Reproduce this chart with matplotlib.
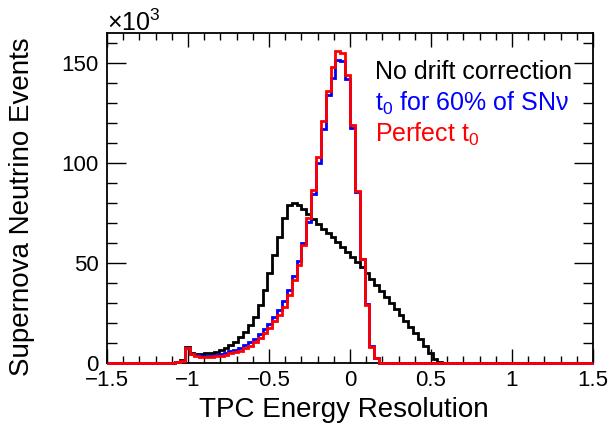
import numpy as np
import matplotlib
matplotlib.use("Agg")
import matplotlib.pyplot as plt
from matplotlib.ticker import MultipleLocator, FuncFormatter

plt.rcParams['font.family'] = ['Liberation Sans', 'DejaVu Sans']
plt.rcParams['mathtext.fontset'] = 'custom'
plt.rcParams['mathtext.rm'] = 'Liberation Sans'
plt.rcParams['mathtext.default'] = 'regular'

# 100 bins from -1.5 to 1.5, values in units of 10^3 events
n_bins = 100
x_lo, x_hi = -1.5, 1.5
first_bin = 13   # index of first filled bin

no_drift = [0.3, 0.8, 1.5, 8.0, 5.0, 4.7, 4.7, 5.0, 5.3, 5.8,
            6.7, 7.5, 9.2, 10.8, 13.0, 15.8, 19.0, 23.0, 29.0, 36.7,
            45.0, 54.0, 63.0, 72.5, 79.0, 80.3, 79.0, 77.0, 74.5, 72.0,
            69.5, 67.0, 65.0, 63.0, 60.5, 58.0, 55.5, 53.0, 50.5, 48.0,
            45.0, 42.0, 39.0, 36.0, 33.0, 30.0, 27.0, 24.0, 21.0, 18.0,
            15.0, 12.0, 8.5, 5.0, 2.0, 0.5]

t0_60 = [0.3, 0.8, 1.4, 7.8, 4.9, 4.1, 3.8, 3.8, 3.9, 4.3,
         4.6, 5.2, 6.0, 6.8, 7.8, 9.0, 10.5, 12.3, 14.5, 17.0,
         19.8, 23.0, 26.5, 31.0, 36.5, 43.5, 51.0, 60.0, 70.5, 84.5,
         100.0, 117.0, 134.0, 142.5, 151.5, 151.0, 142.0, 117.5, 85.5, 52.0,
         29.5, 8.5, 2.5]

perfect_t0 = [0.3, 0.7, 1.3, 7.8, 4.7, 3.8, 3.3, 3.3, 3.3, 3.7,
              3.8, 4.3, 5.0, 5.5, 6.3, 7.5, 8.8, 10.5, 12.5, 15.0,
              17.5, 21.0, 24.0, 28.0, 34.0, 41.6, 49.0, 59.0, 72.5, 86.5,
              103.0, 121.0, 136.0, 148.0, 156.0, 155.0, 144.0, 119.0, 86.0, 52.0,
              29.0, 8.0, 2.5]

labels = ["No drift correction", "t$_0$ for 60% of SN\u03bd", "Perfect t$_0$"]
colors = ["black", "blue", "red"]


def fill(vals):
    h = np.zeros(n_bins)
    h[first_bin:first_bin + len(vals)] = vals
    return h


edges = np.linspace(x_lo, x_hi, n_bins + 1)

fig = plt.figure(figsize=(6.11, 4.32), dpi=100)
ax = fig.add_axes([0.1751, 0.159, 0.7954, 0.7639])

for vals, c in zip([no_drift, t0_60, perfect_t0], colors):
    ax.stairs(fill(vals), edges, color=c, lw=2, baseline=None,
              zorder=3, clip_on=False)

ax.set_xlim(x_lo, x_hi)
ax.set_ylim(0, 165)

ax.xaxis.set_major_locator(MultipleLocator(0.5))
ax.xaxis.set_minor_locator(MultipleLocator(0.1))
ax.yaxis.set_major_locator(MultipleLocator(50))
ax.yaxis.set_minor_locator(MultipleLocator(10))
ax.xaxis.set_major_formatter(FuncFormatter(lambda v, p: ('%g' % v).replace('-', '\u2212')))

ax.tick_params(which='both', direction='in', top=True, right=True, labelsize=16, width=1)
ax.tick_params(axis='x', which='major', length=10, pad=5)
ax.tick_params(axis='x', which='minor', length=5)
ax.tick_params(axis='y', which='major', length=14, pad=6)
ax.tick_params(axis='y', which='minor', length=7)
for s in ax.spines.values():
    s.set_linewidth(1.3)

fig.text(107 / 611, 1 - 31 / 432, "\u00d710$^{3}$", fontsize=18, ha='left', va='baseline')
fig.text(22 / 611, 1 - 207 / 432, "Supernova Neutrino Events", fontsize=20,
         rotation=90, ha='center', va='center')
fig.text(344 / 611, 1 - 410 / 432, "TPC Energy Resolution", fontsize=20,
         ha='center', va='center')

for i, (lab, c) in enumerate(zip(labels, colors)):
    fig.text(375 / 611, 1 - (72 + 31 * i) / 432, lab, color=c, fontsize=18,
             ha='left', va='center')

fig.savefig("out.png", dpi=100)
